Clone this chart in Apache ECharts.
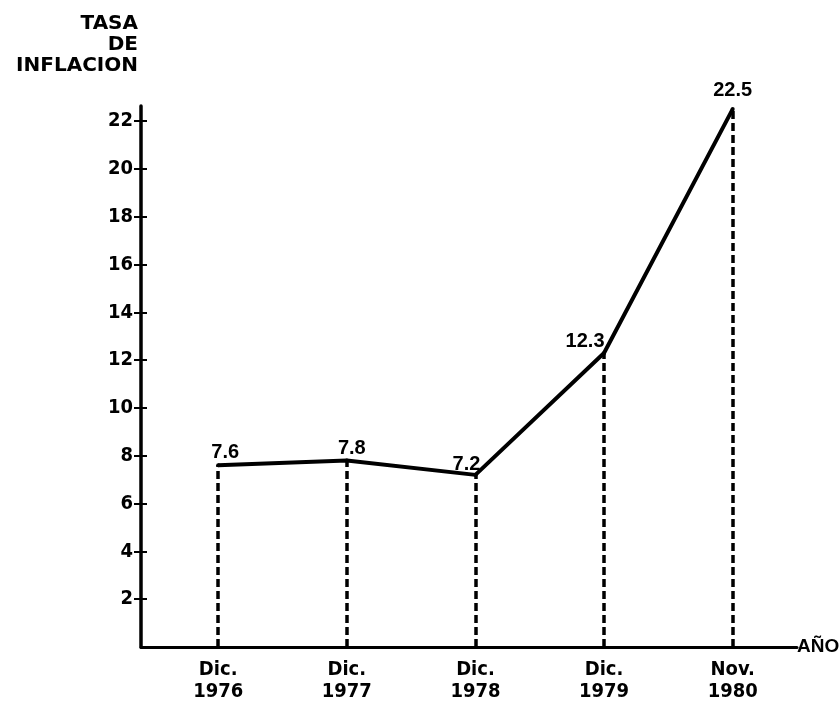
<!DOCTYPE html>
<html>
<head>
<meta charset="utf-8">
<script src="https://cdn.jsdelivr.net/npm/echarts@6/dist/echarts.min.js"></script>
<style>
  html, body { margin: 0; padding: 0; background: #fff; }
  #chart { width: 840px; height: 710px; }
</style>
</head>
<body>
<div id="chart"></div>
<script>
// datos
const periodos = ['Dic.\n1976', 'Dic.\n1977', 'Dic.\n1978', 'Dic.\n1979', 'Nov.\n1980']
const tasaInflacion = [7.6, 7.8, 7.2, 12.3, 22.5]
const yTicks = [2, 4, 6, 8, 10, 12, 14, 16, 18, 20, 22]

// desplazamiento de cada etiqueta de valor (px)
const labelOffsets = [[7, -1], [5, 0], [-9, 2], [-19, 1], [0, -7]]

const xPos = periodos.map((p, i) => i + 1)
const font = 'Liberation Sans, Arial, sans-serif'
const fontCond = 'DejaVu Sans Condensed, DejaVu Sans, sans-serif'

const myChart = echarts.init(document.getElementById('chart'))

const yBase = {
  type: 'value',
  min: 0,
  max: 22.63,
  position: 'left',
  splitLine: { show: false },
}

const option = {
  backgroundColor: '#fff',
  animation: false,
  grid: { left: 141, right: 43, top: 106, bottom: 63, outerBoundsMode: 'none' },
  xAxis: {
    type: 'value',
    min: 0.4,
    max: 5.5,
    name: 'AÑO',
    nameLocation: 'end',
    nameGap: 0,
    nameTextStyle: {
      color: '#000', fontFamily: font, fontSize: 19, fontWeight: 'bold', padding: [10, 0, 0, 0],
    },
    axisLine: { onZero: false, lineStyle: { color: '#000', width: 3 } },
    axisTick: { show: false },
    splitLine: { show: false },
    axisLabel: {
      customValues: xPos,
      formatter: (v) => periodos[Math.round(v) - 1] || '',
      color: '#000',
      fontFamily: fontCond,
      fontSize: 20,
      fontWeight: 'bold',
      lineHeight: 22,
      margin: 12,
    },
  },
  yAxis: [
    {
      ...yBase,
      name: 'TASA\nDE\nINFLACION',
      nameLocation: 'end',
      nameGap: 30,
      nameTextStyle: {
        color: '#000', fontFamily: 'DejaVu Sans, sans-serif', fontSize: 20, fontWeight: 'bold',
        lineHeight: 21, align: 'right', verticalAlign: 'bottom', padding: [0, 3, 0, 0],
      },
      axisLine: { onZero: false, lineStyle: { color: '#000', width: 3.5 } },
      axisTick: { customValues: yTicks, length: 7, lineStyle: { color: '#000', width: 2 } },
      axisLabel: {
        customValues: yTicks,
        color: '#000', fontFamily: fontCond, fontSize: 20, fontWeight: 'bold', margin: 8,
      },
    },
    {
      ...yBase,
      axisLine: { show: false },
      axisLabel: { show: false },
      axisTick: { customValues: yTicks, inside: true, length: 6, lineStyle: { color: '#000', width: 2 } },
    },
  ],
  series: [
    {
      type: 'line',
      data: tasaInflacion.map((v, i) => ({
        value: [xPos[i], v],
        label: { offset: labelOffsets[i] },
      })),
      symbol: 'circle',
      symbolSize: 4,
      itemStyle: { color: '#000' },
      lineStyle: { color: '#000', width: 4 },
      label: {
        show: true,
        position: 'top',
        distance: 0,
        color: '#000',
        fontFamily: font,
        fontSize: 20,
        fontWeight: 'bold',
        formatter: (p) => p.value[1].toFixed(1),
      },
      markLine: {
        silent: true,
        symbol: ['none', 'none'],
        label: { show: false },
        lineStyle: { color: '#000', width: 3.5, type: [8, 4] },
        data: tasaInflacion.map((v, i) => [{ coord: [xPos[i], 0] }, { coord: [xPos[i], v] }]),
      },
    },
  ],
}

myChart.setOption(option)
</script>
</body>
</html>
